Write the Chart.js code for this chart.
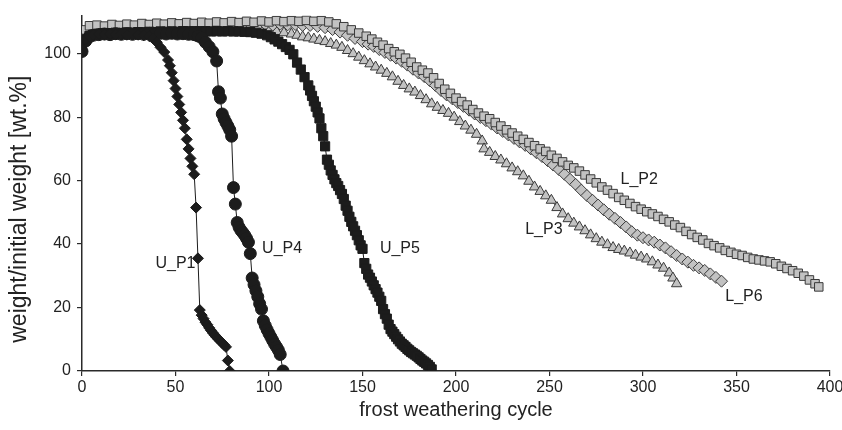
<!DOCTYPE html>
<html>
<head>
<meta charset="utf-8">
<script src="https://cdn.jsdelivr.net/npm/chart.js@4/dist/chart.umd.min.js"></script>
<style>
  html, body { margin: 0; padding: 0; background: #fff; }
  #wrap { width: 842px; height: 430px; }
</style>
</head>
<body>
<div id="wrap"><canvas id="chart" width="842" height="430"></canvas></div>
<script>
// frost weathering cycle (x) vs weight/initial weight [wt.%] (y)
const u1X = [0,2,4,6,9,12,15,18,21,24,27,30,33,36,38,40,42,44,46,47,48,49,50,51,52,53,54,55,56,57,58,59,60,61,62,63,64,65,66,67,68,69,70,71,72,73,74,75,76,77,78,79];
const u1Y = [101,104.5,105.5,106,106.2,106,106.3,106.1,106.3,106,106.2,106,105.8,105.5,104.8,103.6,102,100.5,98,96.2,94,91.5,89,86.5,84,81.5,79,76.5,73,70,67,64.5,62,51.5,35.5,19.2,17.6,16.5,15.4,14.6,13.6,12.8,12,11.3,10.6,10,9.4,8.8,8.2,7.6,3.3,0];

const u4X = [0,2,4,6,9,12,15,18,21,24,27,30,33,36,39,42,45,48,51,54,57,60,62,64,66,68,70,72,73,74,75,76,77,78,79,80,81,82,83,84,85,86,87,88,89,90,91,92,93,94,95,96,97,98,99,100,101,102,103,104,105,106,107.5];
const u4Y = [100.7,104,105.3,105.8,106,106.2,106,106.3,106.1,106.3,106.1,106.3,106.1,106.4,106.2,106.4,106.2,106.4,106.2,106.3,106.1,106,105.6,105,103.6,102.2,100.6,97.7,88,86,81,79.5,78.3,77.2,76,74,57.8,52.6,46.8,45.3,44.3,43.6,42.8,41.8,40.6,37,29.3,27.2,25.3,23.4,21.2,19.5,15.8,14.3,13,11.8,10.7,9.6,8.5,7.6,6.6,5.2,0];

const u5X = [0,2,4,6,9,12,15,18,21,24,27,30,33,36,39,42,45,48,51,54,57,60,63,66,69,72,75,78,81,84,87,90,93,96,99,101,103,105,107,109,111,113,115,117,119,121,122,123,124,125,126,127,128,129,130,131,132,133,134,135,136,137,138,139,140,141,142,143,144,145,146,147,148,149,150,151,152,153,154,155,156,157,158,159,160,161,162,163,164,165,166,167,168,169,170,171,172,173,174,175,176,177,178,179,180,181,182,183,184,185,186,187];
const u5Y = [101,104.5,105.6,106,106.3,106.5,106.4,106.6,106.5,106.7,106.6,106.8,106.7,106.9,106.8,107,106.9,107,106.9,107.1,107,107.1,107,107.1,107,107.1,107,107.1,107,107,106.9,106.8,106.6,106.3,105.8,105.2,104.5,103.8,103,102.1,101.2,99.8,97.2,95,92.6,90,88.4,86.7,85,83.3,81.5,79.6,76.5,74,70.8,66.6,65,63.2,61.8,60.4,59.2,58.3,57,55.8,54.2,52.1,50.5,48.6,47,45.6,44.2,42.8,41.2,39.6,38.5,34,32.2,30.4,29.4,28.2,27,25.8,24.7,23.4,22.1,19.5,17.9,16.5,14.6,13.2,12.4,11.6,10.8,10,9.3,8.6,8.1,7.6,7,6.5,6,5.6,5.2,4.8,4.3,3.8,3.3,2.9,2.4,1.9,1.3,0.5];

const l2X = [0,2,4,8,12,16,20,24,28,32,36,40,44,48,52,56,60,64,68,72,76,80,84,88,92,96,100,104,108,112,116,120,124,128,132,136,140,144,148,152,155,158,161,164,167,170,173,176,179,182,185,188,191,194,197,200,203,206,209,212,215,218,221,224,227,230,233,236,239,242,245,248,251,254,257,260,263,266,269,272,275,278,281,284,287,290,293,296,299,302,305,308,311,314,317,320,323,326,329,332,335,338,341,344,347,350,353,356,359,362,365,368,371,374,377,380,383,386,389,392,394];
const l2Y = [105,107.5,108.8,109,108.7,109.2,108.9,109.3,109,109.5,109.2,109.6,109.3,109.7,109.4,109.8,109.5,109.9,109.6,110,109.7,110.1,109.8,110.2,109.9,110.3,110,110.4,110.1,110.4,110.2,110.5,110.2,110.4,110,109.4,108.5,107.5,106.5,105.5,104.6,103.6,102.7,101.6,100.6,99.8,98.6,97.3,95.8,94.8,93.9,92.4,90.6,88.8,87.5,86,84.9,83.8,82.4,81.3,80.3,79.5,78.3,77.2,76,75,74,73,72,71,70,69.2,68,67,65.9,64.8,64,63,61.8,60.5,59.3,58,57,55.9,54.7,53.8,52.8,51.8,51,50.2,49.5,48.7,47.8,47,46,45.2,44,43,42.1,41.3,40.2,39.5,38.8,38,37.4,36.8,36.4,35.8,35.3,35,34.7,34.4,33.8,33,32.3,31.6,30.8,29.9,28.7,27.5,26.5];

const l3X = [0,2,4,8,12,16,20,24,28,32,36,40,44,48,52,56,60,64,68,72,76,80,84,88,92,96,100,104,108,112,115,118,121,124,127,130,133,136,139,142,145,148,151,154,157,160,163,166,169,172,175,178,181,184,187,190,193,196,199,202,205,208,211,214,215,218,221,224,227,230,233,236,239,242,245,248,251,254,257,260,263,266,269,272,275,278,281,284,287,290,293,296,299,302,305,308,311,314,316,318];
const l3Y = [104,106,107,107.3,107.1,107.4,107.2,107.5,107.3,107.6,107.4,107.7,107.5,107.8,107.6,107.9,107.7,108,107.8,108,107.8,108,107.8,107.9,107.6,107.6,107.2,107,106.6,106.2,105.8,105.3,105,104.6,104.2,103.8,103.2,102.7,102,101,100,98.9,97.8,96.8,95.8,94.8,93.8,92.7,91.3,90,88.9,87.9,86.8,85.5,84.2,83.1,82.1,81.2,80,78.6,77.2,75.9,74.6,72.5,70,68.9,67.6,66.5,65.3,64,62.8,61.5,59.8,58,56.6,55.2,53.8,51.5,49.5,48,46.6,45.4,44.2,42.9,41.7,40.6,39.8,38.9,38.3,37.8,37.2,36.5,35.9,35.3,34.4,33.4,32.4,30.9,29.3,27.5];

const l6X = [0,3,6,10,14,18,22,26,30,34,38,42,46,50,54,58,62,66,70,74,78,82,86,90,94,98,102,106,110,114,118,122,126,130,134,138,142,146,150,153,156,159,162,165,168,171,174,177,180,183,186,189,192,195,198,201,204,207,210,213,216,219,222,225,228,231,234,237,240,243,246,249,252,255,258,261,264,267,270,273,276,279,282,285,288,291,294,297,300,303,306,309,312,315,318,321,324,327,330,333,336,339,342];
const l6Y = [104,107,107.8,108,107.9,108.2,108,108.4,108.1,108.5,108.2,108.6,108.3,108.7,108.4,108.8,108.5,108.9,108.6,109,108.7,109.1,108.8,109.2,108.9,109.3,109,109.3,109.1,109.2,108.9,108.9,108.6,108.2,107.6,106.8,105.8,104.8,103.8,103,102.3,101.3,100.4,99.5,98.6,97.6,96.4,95.1,93.9,92.8,91.5,90,88.4,87,85.8,84.6,83.4,82.2,81,79.9,78.9,77.8,76.6,75.5,74.4,73.3,72.2,71.1,70,68.8,67.6,66.3,64.9,63.5,62,60.4,58.8,57,55.3,53.8,52.3,50.8,49.4,48.1,46.8,45.4,43.9,42.8,42,41.3,40.6,39.7,38.8,37.6,36.4,35.3,34.3,33.3,32.5,31.7,30.6,29.5,28.3];

const xTicks = [0, 50, 100, 150, 200, 250, 300, 350, 400];
const yTicks = [0, 20, 40, 60, 80, 100];

// series names and where their labels sit (data units)
const seriesNames = ["U_P1", "U_P4", "U_P5", "L_P2", "L_P3", "L_P6"];
const labelX = [50, 107, 170, 298, 247, 354];
const labelY = [34, 38.5, 38.5, 60.2, 44.6, 23.6];

const yTitle = "weight/initial weight [wt.%]";

function pts(xs, ys) {
  return xs.map((x, i) => ({ x: x, y: ys[i] }));
}

const BLACK = "#1c1c1c";
const GREY = "#c2c2c2";
const GREY_EDGE = "#3a3a3a";
const FONT = "'Liberation Sans', Arial, sans-serif";

function blackSet(name, data, style, r) {
  return {
    label: name,
    data: data,
    showLine: true,
    borderColor: BLACK,
    borderWidth: 1,
    pointStyle: style,
    pointRadius: r,
    pointBackgroundColor: BLACK,
    pointBorderColor: BLACK,
    pointBorderWidth: 1
  };
}

function greySet(name, data, style, r) {
  return {
    label: name,
    data: data,
    showLine: true,
    borderColor: "#555",
    borderWidth: 1,
    pointStyle: style,
    pointRadius: r,
    pointBackgroundColor: GREY,
    pointBorderColor: GREY_EDGE,
    pointBorderWidth: 1
  };
}

const seriesLabels = {
  id: "seriesLabels",
  afterDatasetsDraw(chart) {
    const ctx = chart.ctx;
    const xs = chart.scales.x;
    const ys = chart.scales.y;
    ctx.save();
    ctx.font = "16px " + FONT;
    ctx.fillStyle = "#222";
    ctx.textAlign = "center";
    ctx.textBaseline = "middle";
    seriesNames.forEach((n, i) => {
      ctx.fillText(n, xs.getPixelForValue(labelX[i]), ys.getPixelForValue(labelY[i]));
    });

    // y axis title, sits a bit below the middle of the axis like the original
    ctx.translate(20, ys.getPixelForValue(51));
    ctx.rotate(-Math.PI / 2);
    ctx.font = "23px " + FONT;
    ctx.fillText(yTitle, 0, 0);
    ctx.restore();
  }
};

const axisColor = "#2a2a2a";

new Chart(document.getElementById("chart").getContext("2d"), {
  type: "scatter",
  data: {
    datasets: [
      blackSet("U_P1", pts(u1X, u1Y), "rectRot", 5.5),
      blackSet("U_P4", pts(u4X, u4Y), "circle", 6),
      blackSet("U_P5", pts(u5X, u5Y), "rect", 6.5),
      greySet("L_P2", pts(l2X, l2Y), "rect", 6),
      greySet("L_P6", pts(l6X, l6Y), "rectRot", 6),
      greySet("L_P3", pts(l3X, l3Y), "triangle", 6)
    ]
  },
  options: {
    responsive: false,
    animation: false,
    events: [],
    layout: { padding: { left: 0, right: 0, top: 10, bottom: 0 } },
    plugins: {
      legend: { display: false },
      tooltip: { enabled: false }
    },
    scales: {
      x: {
        type: "linear",
        min: 0,
        max: 400,
        afterFit: (axis) => { axis.height = 59; axis.paddingRight = 12; },
        afterBuildTicks: (axis) => { axis.ticks = xTicks.map(v => ({ value: v })); },
        border: { display: true, color: axisColor, width: 1.5 },
        grid: { display: true, drawOnChartArea: false, drawTicks: true, tickLength: 5, color: axisColor, lineWidth: 1.2 },
        ticks: {
          color: "#222",
          padding: 2,
          maxRotation: 0,
          font: { family: FONT, size: 16 }
        },
        title: {
          display: true,
          text: "frost weathering cycle",
          color: "#222",
          padding: { top: 0, bottom: 8 },
          font: { family: FONT, size: 20 }
        }
      },
      y: {
        type: "linear",
        min: 0,
        max: 112,
        afterFit: (axis) => { axis.width = 82; },
        afterBuildTicks: (axis) => { axis.ticks = yTicks.map(v => ({ value: v })); },
        border: { display: true, color: axisColor, width: 1.5 },
        grid: { display: true, drawOnChartArea: false, drawTicks: true, tickLength: 5, color: axisColor, lineWidth: 1.2 },
        ticks: {
          color: "#222",
          padding: 6,
          font: { family: FONT, size: 16 }
        }
      }
    }
  },
  plugins: [seriesLabels]
});
</script>
</body>
</html>
